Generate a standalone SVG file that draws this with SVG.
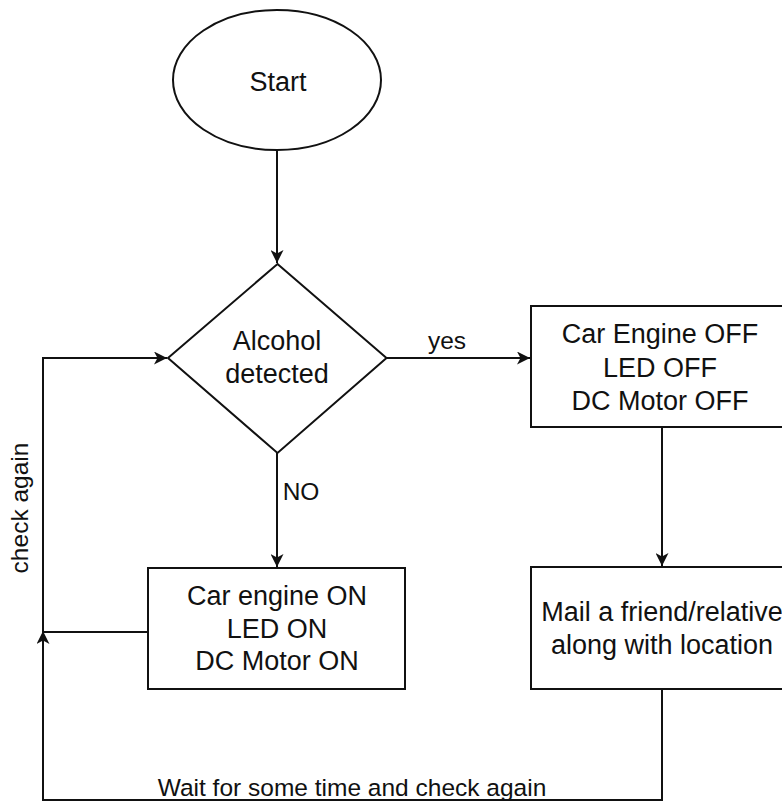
<svg xmlns="http://www.w3.org/2000/svg" width="782" height="802" viewBox="0 0 782 802">
<defs>
<style>
.shape{fill:#fff;stroke:#111;stroke-width:2}
.edge{fill:none;stroke:#111;stroke-width:2}
.t{font-family:"Liberation Sans",Arial,sans-serif;font-size:27px;fill:#111;text-anchor:middle}
.l{font-family:"Liberation Sans",Arial,sans-serif;font-size:24.5px;fill:#111;text-anchor:middle}
</style>
<marker id="arr" markerUnits="userSpaceOnUse" markerWidth="14" markerHeight="13" refX="13" refY="6.5" orient="auto">
<path d="M0,0 L13,6.5 L0,13 L3.5,6.5 Z" fill="#111"/>
</marker>
</defs>
<rect width="782" height="802" fill="#fff"/>
<g id="connectors">
<path class="edge" d="M277,150 L277,263" marker-end="url(#arr)"/>
<path class="edge" d="M387,358 L530,358" marker-end="url(#arr)"/>
<path class="edge" d="M277,453 L277,567" marker-end="url(#arr)"/>
<path class="edge" d="M662,427 L662,566" marker-end="url(#arr)"/>
<path class="edge" d="M662,689 L662,800 L43,800 L43,631" marker-end="url(#arr)"/>
<path class="edge" d="M148,632 L43,632 L43,358 L167,358" marker-end="url(#arr)"/>
<text class="l" x="447" y="349">yes</text>
<text class="l" x="301" y="500">NO</text>
<text class="l" x="352" y="796">Wait for some time and check again</text>
<text class="l" transform="translate(28,508) rotate(-90)">check again</text>
</g>
<g id="start">
<ellipse class="shape" cx="277" cy="80" rx="104" ry="70"/>
<text class="t" x="278" y="91">Start</text>
</g>
<g id="decision">
<polygon class="shape" points="277.5,264 386.5,358 277.5,453 168,358"/>
<text class="t" x="277" y="350">Alcohol</text>
<text class="t" x="277" y="383">detected</text>
</g>
<g id="engine-off">
<rect class="shape" x="531" y="306" width="262" height="121"/>
<text class="t" x="660" y="343">Car Engine OFF</text>
<text class="t" x="660" y="377">LED OFF</text>
<text class="t" x="660" y="410">DC Motor OFF</text>
</g>
<g id="engine-on">
<rect class="shape" x="148" y="568" width="257" height="121"/>
<text class="t" x="277" y="605">Car engine ON</text>
<text class="t" x="277" y="638">LED ON</text>
<text class="t" x="277" y="670">DC Motor ON</text>
</g>
<g id="mail">
<rect class="shape" x="531" y="567" width="262" height="122"/>
<text class="t" x="662" y="621">Mail a friend/relative</text>
<text class="t" x="662" y="654">along with location</text>
</g>
</svg>
